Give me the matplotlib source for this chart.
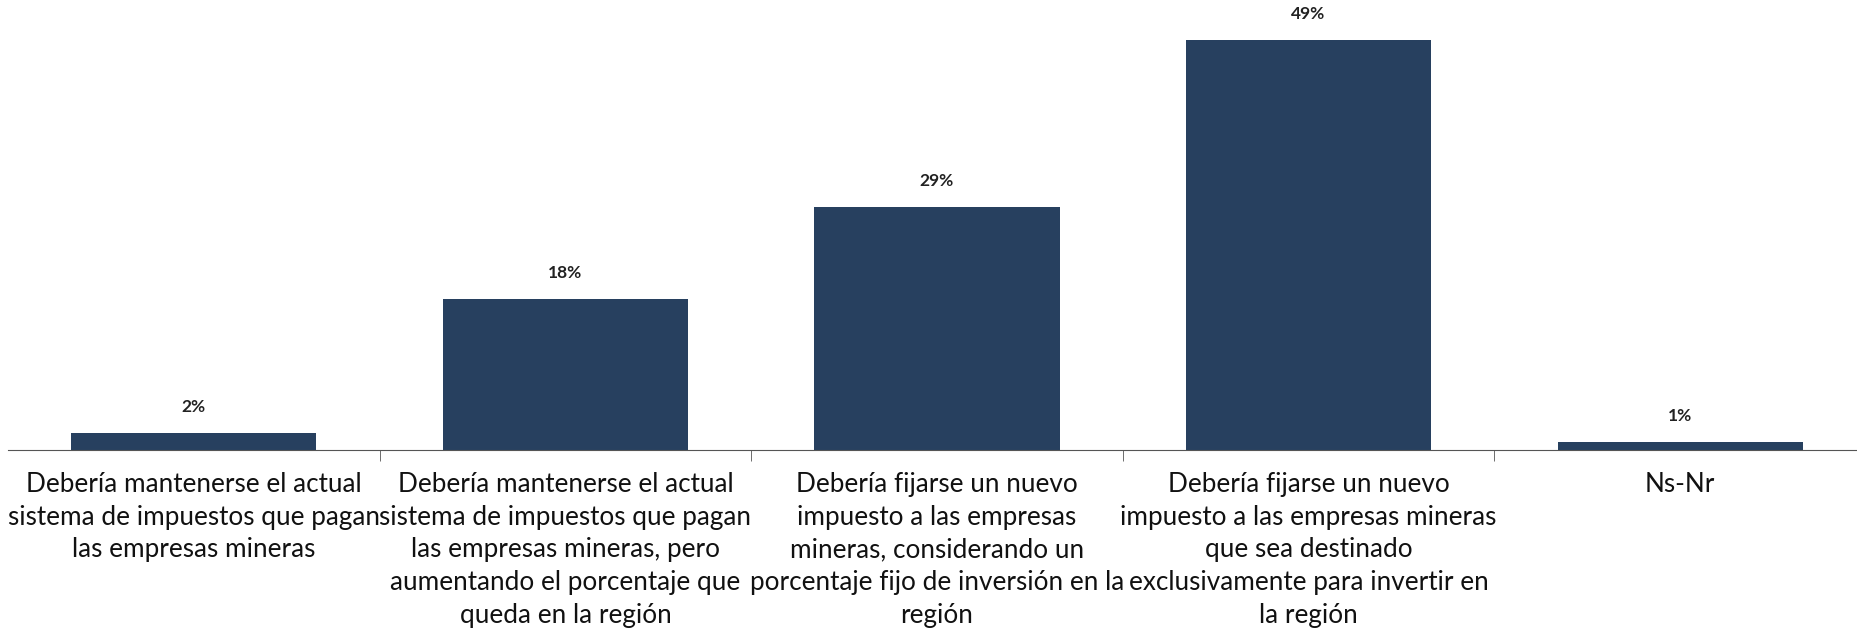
import numpy as np
from matplotlib import pyplot as plt

categories = [
    "Debería mantenerse el actual\nsistema de impuestos que pagan\nlas empresas mineras",
    "Debería mantenerse el actual\nsistema de impuestos que pagan\nlas empresas mineras, pero\naumentando el porcentaje que\nqueda en la región",
    "Debería fijarse un nuevo\nimpuesto a las empresas\nmineras, considerando un\nporcentaje fijo de inversión en la\nregión",
    "Debería fijarse un nuevo\nimpuesto a las empresas mineras\nque sea destinado\nexclusivamente para invertir en\nla región",
    "Ns-Nr",
]
values = [2, 18, 29, 49, 1]
labels = ["2%", "18%", "29%", "49%", "1%"]

plt.rcParams['font.family'] = ['Lato', 'DejaVu Sans']

fig = plt.figure(figsize=(18.58, 6.31), dpi=100)
ax = fig.add_axes([8 / 1858, 1 - 450 / 631, 1858 / 1858, 450 / 631])

x = np.arange(len(values))
ax.bar(x, values, width=0.66, color='#27405f')
for xi, v, lab in zip(x, values, labels):
    ax.annotate(lab, (xi, v), xytext=(0, 13), textcoords='offset points',
                ha='center', va='bottom', fontsize=12.5, fontweight='bold', color='#222222')

ax.set_xlim(-0.5, 4.5)
ax.set_ylim(0, 53.8)
ax.set_xticks(x)
ax.set_xticklabels(categories, fontsize=18.8, linespacing=1.38, color='#111111')
ax.tick_params(axis='x', which='major', length=0, pad=16)
ax.set_xticks(np.arange(0.5, 4.5, 1), minor=True)
ax.tick_params(axis='x', which='minor', length=8, color='#555555')
ax.set_yticks([])
for s in ['top', 'right', 'left']:
    ax.spines[s].set_visible(False)
ax.spines['bottom'].set_color('#555555')

fig.savefig('out.png', dpi=100)
